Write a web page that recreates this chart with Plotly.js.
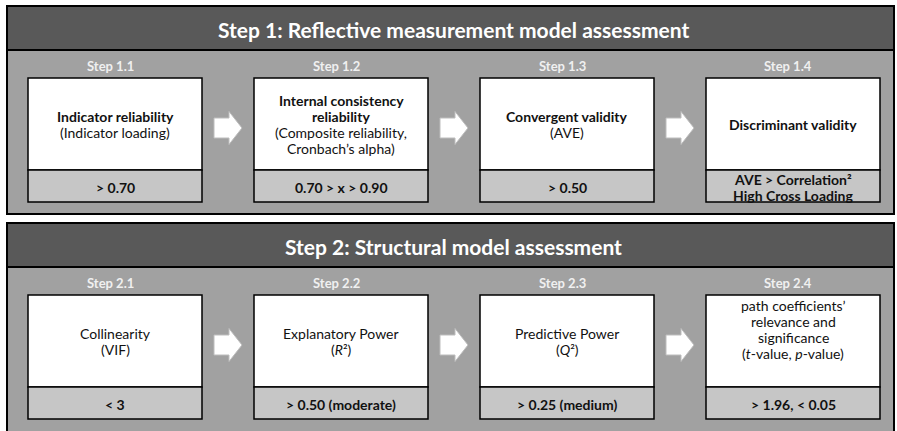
<!DOCTYPE html>
<html>
<head>
<meta charset="utf-8">
<script src="https://cdn.plot.ly/plotly-3.0.1.min.js"></script>
<style>html,body{margin:0;padding:0;background:#fff;}#chart{width:897px;height:431px;}</style>
</head>
<body>
<div id="chart"></div>
<script>
// ---- content ----
const PANEL_TITLES = [
  "Step 1: Reflective measurement model assessment",
  "Step 2: Structural model assessment"
];
const STEP_LABELS = [
  ["Step 1.1", "Step 1.2", "Step 1.3", "Step 1.4"],
  ["Step 2.1", "Step 2.2", "Step 2.3", "Step 2.4"]
];
const BOX_HEADS = [
  [["Indicator reliability"], ["Internal consistency", "reliability"], ["Convergent validity"], ["Discriminant validity"]],
  [[], [], [], []]
];
const BOX_NOTES = [
  [["(Indicator loading)"], ["(Composite reliability,", "Cronbach’s alpha)"], ["(AVE)"], []],
  [["Collinearity", "(VIF)"], ["Explanatory Power", "(<i>R</i>²)"], ["Predictive Power", "(<i>Q</i>²)"],
   ["path coefficients’", "relevance and", "significance", "(<i>t</i>-value, <i>p</i>-value)", ""]]
];
const THRESHOLDS = [
  [["&gt; 0.70"], ["0.70 &gt; x &gt; 0.90"], ["&gt; 0.50"], ["AVE &gt; Correlation²", "High Cross Loading"]],
  [["&lt; 3"], ["&gt; 0.50 (moderate)"], ["&gt; 0.25 (medium)"], ["&gt; 1.96, &lt; 0.05"]]
];

// ---- geometry / style ----
const W = 897, H = 431;
const FONT = "Lato, 'Open Sans', sans-serif";
const panelTop = [6, 223];
const panelX0 = 7, panelX1 = 894, panelH = [208, 230];
const headerH = 44;
const boxX0 = 28, boxW = 174, boxStep = 226;
const boxTopOff = 72, whiteH = 92, grayH = 32;
const lineGap = 16;
const labelDx = -5, titleDx = 5;

const shapes = [];
const annotations = [];

function addLine(t, cx, cy, opts) {
  if (!t) return;
  annotations.push({
    x: cx, y: cy, xref: 'x', yref: 'y',
    text: opts.bold ? '<b>' + t + '</b>' : t,
    showarrow: false, xanchor: 'center', yanchor: 'middle',
    font: {family: FONT, size: opts.size || 14, color: opts.color || '#111'}
  });
}

PANEL_TITLES.forEach((title, p) => {
  const top = panelTop[p];
  shapes.push({type: 'rect', xref: 'x', yref: 'y', x0: panelX0, x1: panelX1, y0: top, y1: top + panelH[p],
    fillcolor: '#a1a1a1', line: {color: '#000', width: 2}, layer: 'below'});
  shapes.push({type: 'rect', xref: 'x', yref: 'y', x0: panelX0, x1: panelX1, y0: top, y1: top + headerH,
    fillcolor: '#595959', line: {color: '#000', width: 2}, layer: 'below'});
  annotations.push({x: W / 2 + titleDx, y: top + headerH / 2 + 1, xref: 'x', yref: 'y', text: '<b>' + title + '</b>',
    showarrow: false, xanchor: 'center', yanchor: 'middle',
    font: {family: FONT, size: 21, color: '#ffffff'}});

  for (let i = 0; i < 4; i++) {
    const x0 = boxX0 + i * boxStep, x1 = x0 + boxW, cx = (x0 + x1) / 2;
    const y0 = top + boxTopOff, yMid = y0 + whiteH, y1 = yMid + grayH;
    annotations.push({x: cx + labelDx, y: top + 60, xref: 'x', yref: 'y', text: '<b>' + STEP_LABELS[p][i] + '</b>',
      showarrow: false, xanchor: 'center', yanchor: 'middle',
      font: {family: FONT, size: 13, color: '#f0f0f0'}});
    shapes.push({type: 'rect', xref: 'x', yref: 'y', x0: x0, x1: x1, y0: y0, y1: yMid,
      fillcolor: '#ffffff', line: {color: '#000', width: 1.5}});
    shapes.push({type: 'rect', xref: 'x', yref: 'y', x0: x0, x1: x1, y0: yMid, y1: y1,
      fillcolor: '#c6c6c6', line: {color: '#000', width: 1.5}});
    const heads = BOX_HEADS[p][i], notes = BOX_NOTES[p][i];
    const all = heads.map(t => ({t, b: true})).concat(notes.map(t => ({t, b: false})));
    const n = all.length, cyW = (y0 + yMid) / 2;
    const lead = (n > 4) ? -4 : 0;
    all.forEach((o, k) => addLine(o.t, cx, cyW + lead + (k - (n - 1) / 2) * lineGap, {bold: o.b, size: 14}));
    const th = THRESHOLDS[p][i], m = th.length, cyG = (yMid + y1) / 2 + 1;
    th.forEach((t, k) => addLine(t, cx, cyG + (k - (m - 1) / 2) * lineGap, {bold: true, size: 14}));
    if (i < 3) {
      const gx = x1 + (boxStep - boxW) / 2, ay = y0 + 50;
      const path = `M ${gx - 14},${ay - 10} L ${gx + 1},${ay - 10} L ${gx + 1},${ay - 16.5} L ${gx + 14},${ay} ` +
        `L ${gx + 1},${ay + 16.5} L ${gx + 1},${ay + 10} L ${gx - 14},${ay + 10} Z`;
      shapes.push({type: 'path', xref: 'x', yref: 'y', path: path, fillcolor: '#ffffff',
        line: {color: '#bdbdbd', width: 1}});
    }
  }
});

const data = [{type: 'scatter', x: [], y: [], mode: 'markers', hoverinfo: 'skip', showlegend: false}];
const layout = {
  width: W, height: H, margin: {l: 0, r: 0, t: 0, b: 0, pad: 0},
  paper_bgcolor: '#ffffff', plot_bgcolor: '#ffffff', showlegend: false,
  xaxis: {range: [0, W], visible: false, fixedrange: true},
  yaxis: {range: [H, 0], visible: false, fixedrange: true},
  shapes: shapes, annotations: annotations
};
Plotly.newPlot('chart', data, layout, {staticPlot: true, displayModeBar: false});
</script>
</body>
</html>
